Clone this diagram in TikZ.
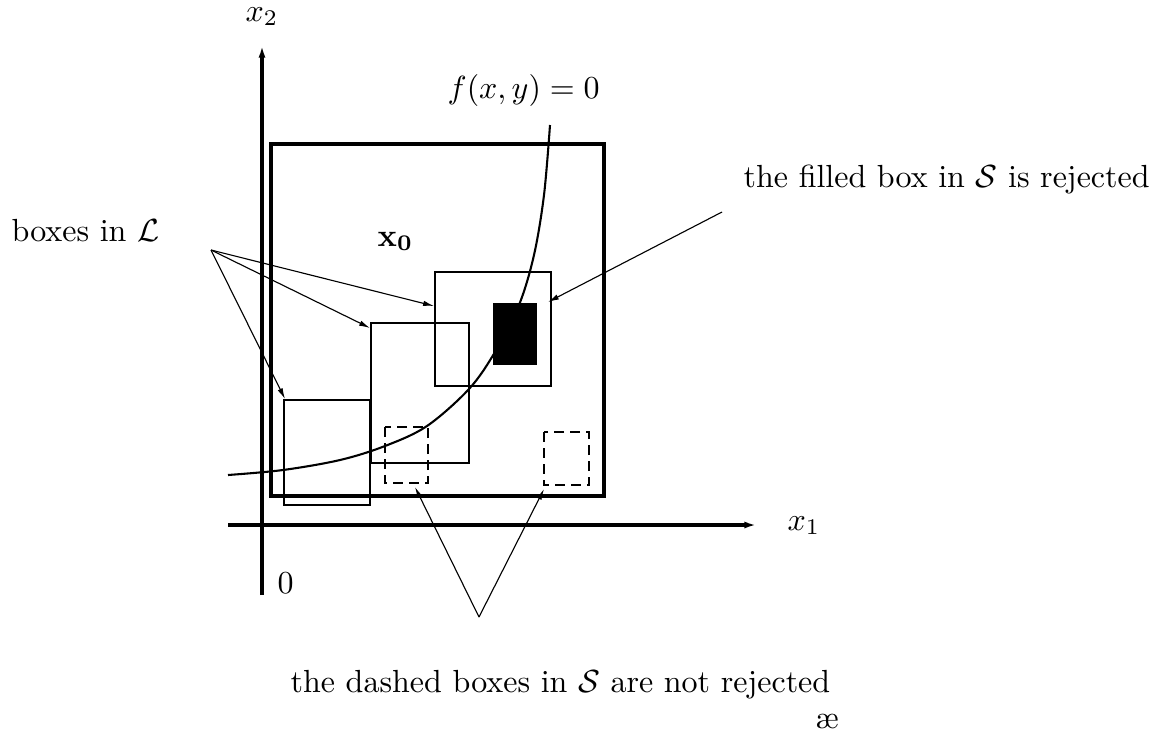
\documentclass[tikz,border=0pt]{standalone}
\usetikzlibrary{arrows.meta}
\begin{document}
\begin{tikzpicture}[x=0.3125pt,y=-0.3125pt,
  axis/.style={line width=0.95pt,-{Latex[length=3.6pt,width=2.2pt]}},
  bigbox/.style={line width=0.95pt},
  box/.style={line width=0.75pt},
  thinbox/.style={line width=0.65pt},
  dbox/.style={line width=0.65pt,dash pattern=on 3pt off 2pt},
  ptr/.style={line width=0.35pt,-{Latex[length=3.4pt,width=1.7pt]}},
  lbl/.style={inner sep=0pt,anchor=base west}]
\useasboundingbox (0,0) rectangle (1156,734);
% axes
\coordinate (ystart) at (262,595);
\coordinate (yend) at (262,46);
\coordinate (xstart) at (228,525);
\coordinate (xend) at (756,525);
\draw[axis] (ystart) -- (yend);
\draw[axis] (xstart) -- (xend);
\node[lbl] (lx2) at (245,21) {$x_2$};
\node[lbl] (lx1) at (787,530) {$x_1$};
\node[lbl] (l0) at (277,593) {$0$};
% boxes
\draw[bigbox] (271,144) coordinate (bigNW) rectangle (604,496) coordinate (bigSE);
\draw[thinbox] (284,400) coordinate (aNW) rectangle (370,505) coordinate (aSE);
\draw[box] (371,323) coordinate (bNW) rectangle (469,463) coordinate (bSE);
\draw[box] (435,272) coordinate (cNW) rectangle (551,386) coordinate (cSE);
\fill (493,303) coordinate (fNW) rectangle (537,365) coordinate (fSE);
\draw[dbox] (385,427) coordinate (d1NW) rectangle (428,483) coordinate (d1SE);
\draw[dbox] (544,432) coordinate (d2NW) rectangle (589,485) coordinate (d2SE);
% curve
\draw[line width=0.65pt] plot[smooth,tension=0.55] coordinates {(228,475) (283,470) (340,460) (385,446) (427,426) (469,389) (495,352) (519,305) (534,255) (544,195) (550,125)};
% labels
\node[lbl] (lf) at (447,98) {$f(x,y)=0$};
\node[lbl] (lx0) at (377,246) {$\mathbf{x_0}$};
\node[lbl] (lL) at (11,241) {boxes in $\mathcal{L}$};
\node[lbl] (lR) at (743,187) {the filled box in $\mathcal{S}$ is rejected};
\node[lbl] (lD) at (290,692) {the dashed boxes in $\mathcal{S}$ are not rejected};
\node[lbl] (lae) at (815,728) {\ae};
% pointers
\coordinate (Lsrc) at (211,250);
\coordinate (tC) at (434,306);
\coordinate (tB) at (370,328);
\coordinate (tA) at (285,399);
\draw[ptr] (Lsrc) -- (tC);
\draw[ptr] (Lsrc) -- (tB);
\draw[ptr] (Lsrc) -- (tA);
\coordinate (Rsrc) at (722,212);
\coordinate (tF) at (548,302);
\draw[ptr] (Rsrc) -- (tF);
\coordinate (Dsrc) at (479,617);
\coordinate (tD1) at (415,487);
\coordinate (tD2) at (544,489);
\draw[ptr] (Dsrc) -- (tD1);
\draw[ptr] (Dsrc) -- (tD2);
\end{tikzpicture}
\end{document}
